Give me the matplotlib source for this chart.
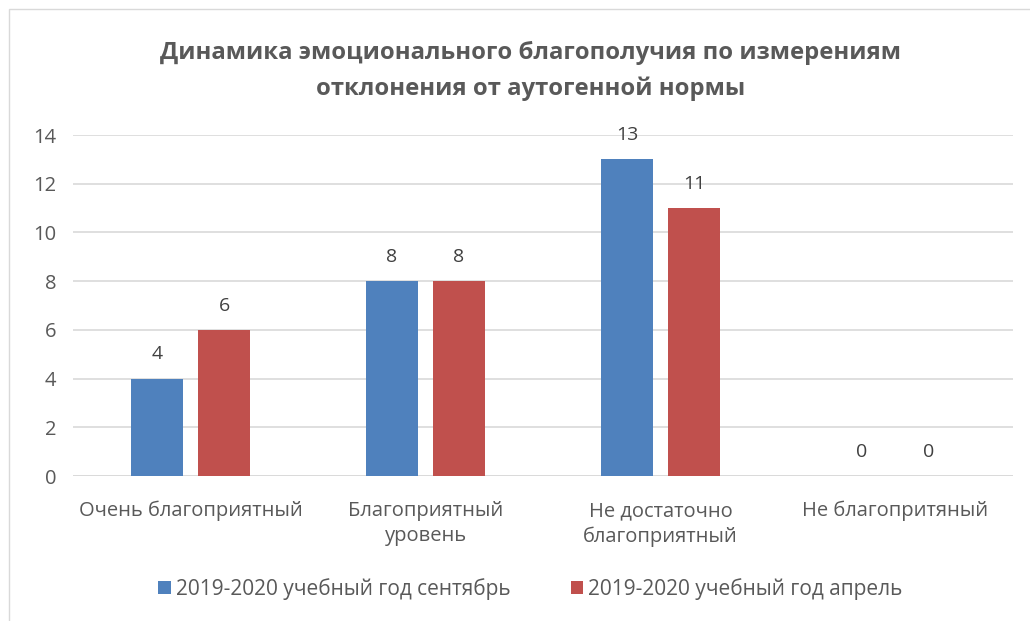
import numpy as np
import matplotlib.pyplot as plt
from matplotlib.patches import Rectangle

categories = ['Очень благоприятный', 'Благоприятный\nуровень',
              'Не достаточно\nблагоприятный', 'Не благопритяный']
sept = [4, 8, 13, 0]
april = [6, 8, 11, 0]
series_names = ['2019-2020 учебный год сентябрь', '2019-2020 учебный год апрель']
title = 'Динамика эмоционального благополучия по измерениям\nотклонения от аутогенной нормы'

blue, red = '#4f81bd', '#c0504d'
txt = '#595959'
plt.rcParams['font.family'] = ['Open Sans', 'DejaVu Sans']

fig = plt.figure(figsize=(10.3, 6.21), dpi=100)
# chart border
fig.patches.append(Rectangle((9 / 1030, -0.1), 1.2, 1 - 9 / 621 + 0.1,
                             transform=fig.transFigure, fill=False,
                             edgecolor='#d9d9d9', lw=1))
ax = fig.add_axes([73 / 1030, 145 / 621, 940 / 1030, 341 / 621])

x = np.arange(len(categories))
w = 0.221
off = 0.1426
b1 = ax.bar(x - off, sept, w, color=blue, label=series_names[0], zorder=3)
b2 = ax.bar(x + off, april, w, color=red, label=series_names[1], zorder=3)
for bars in (b1, b2):
    ax.bar_label(bars, padding=11, fontsize=14, color='#404040')

ax.set_xlim(-0.5, len(categories) - 0.5)
ax.set_ylim(0, 14)
ax.set_yticks(range(0, 15, 2))
ax.yaxis.grid(True, color='#d9d9d9', lw=1.2, zorder=0)
for s in ax.spines.values():
    s.set_visible(False)
ax.axhline(0, color='#d9d9d9', lw=1.2, zorder=2)
ax.tick_params(length=0, labelsize=14.5, colors=txt)
ax.tick_params(axis='y', pad=12)
ax.tick_params(axis='x', pad=18)
ax.set_xticks(x)
ax.set_xticklabels(categories, linespacing=1.35)

fig.text(0.515, 0.886, title, ha='center', va='center', fontsize=17.2,
         fontweight='bold', color=txt, linespacing=1.6)

fig.legend(handles=[b1, b2], loc='center', bbox_to_anchor=(0.515, 0.052),
           ncol=2, frameon=False, fontsize=15, labelcolor=txt,
           handlelength=0.6, handleheight=0.6, handletextpad=0.25,
           columnspacing=2.9)

fig.savefig('out.png', dpi=100)
